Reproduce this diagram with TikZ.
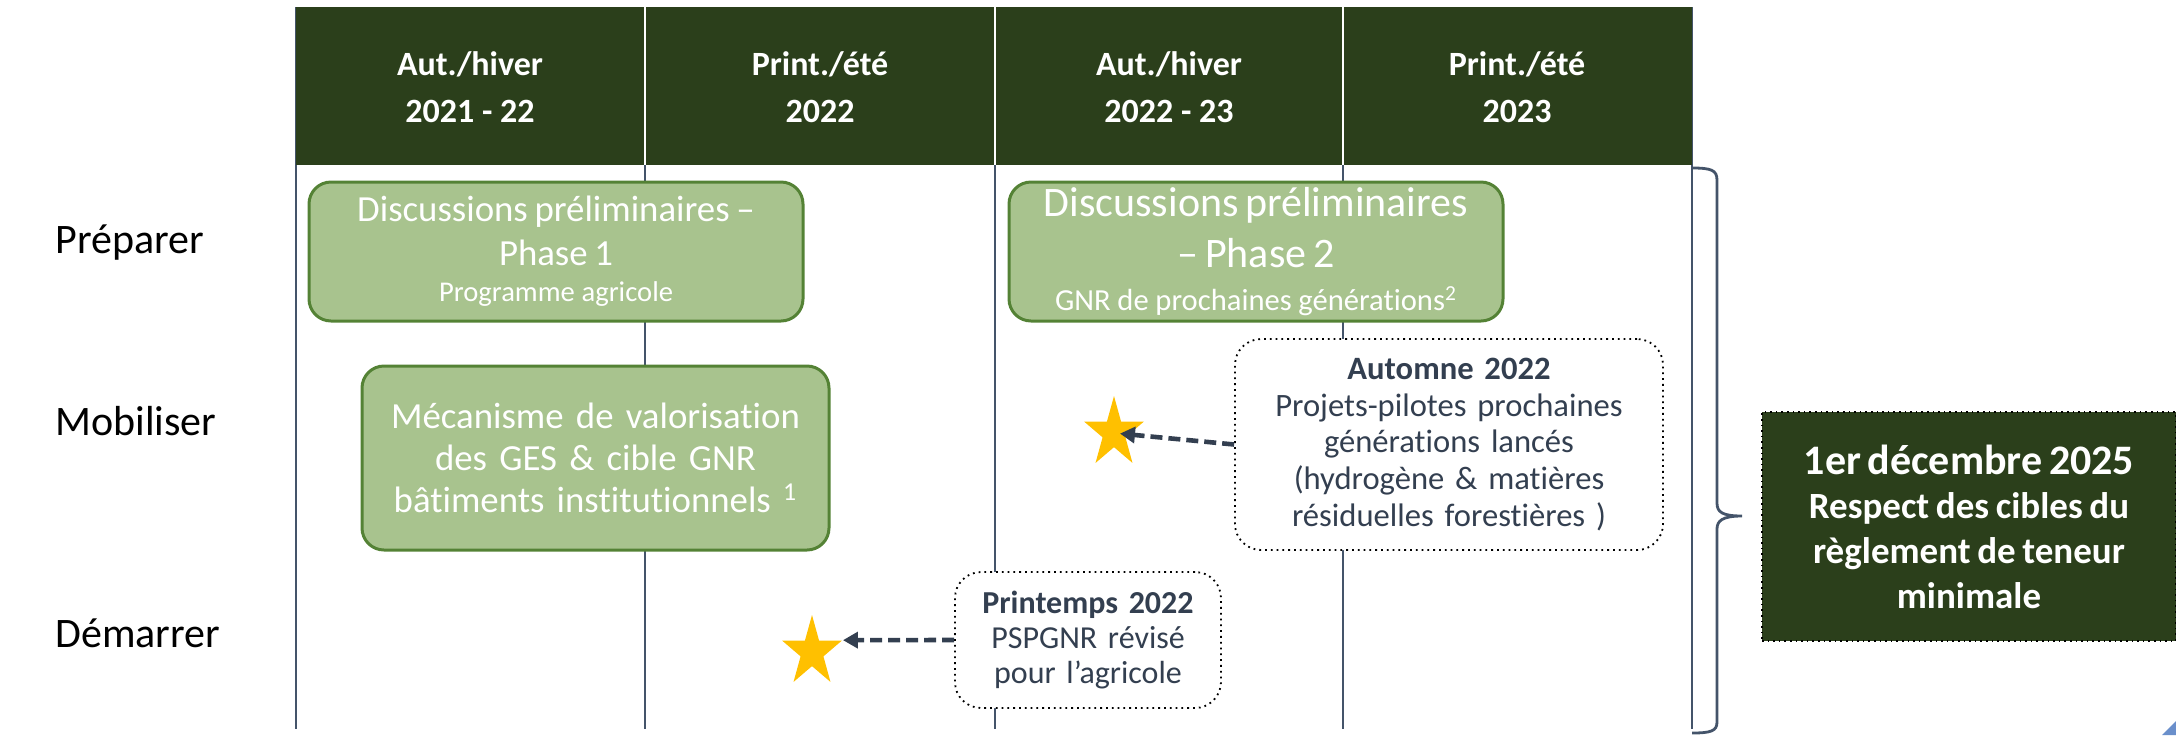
\documentclass[tikz,border=0pt]{standalone}
\usepackage{fontspec}
\setmainfont{Carlito}[Ligatures={NoCommon}]
\usetikzlibrary{shapes.geometric,arrows.meta}
\definecolor{hdr}{HTML}{2B3F1B}
\definecolor{boxfill}{HTML}{A8C38E}
\definecolor{boxline}{HTML}{548235}
\definecolor{gridc}{HTML}{44546A}
\definecolor{gold}{HTML}{FFC000}
\definecolor{ink}{HTML}{333F50}
\definecolor{cornerc}{HTML}{6A8FCB}
\begin{document}
\begin{tikzpicture}[x=0.5pt,y=-0.5pt,
  gridline/.style={draw=gridc,line width=1.1pt},
  hdrtext/.style={text=white,align=center,font=\fontsize{17}{23.5}\selectfont\bfseries},
  rowlabel/.style={anchor=west,inner sep=0pt,font=\fontsize{21}{25}\selectfont},
  greenbox/.style={draw=boxline,line width=1.5pt,fill=boxfill,rounded corners=11pt,
    text=white,align=center,inner sep=0pt},
  callout/.style={draw=black,dotted,line width=0.9pt,fill=white,rounded corners=13pt,
    text=ink,align=center,inner sep=0pt},
  goalbox/.style={draw=black,dotted,line width=0.8pt,fill=hdr,text=white,align=center,
    inner sep=0pt,font=\bfseries},
  starmark/.style={star,star points=5,star point ratio=2.618,fill=gold,draw=none,
    minimum size=37pt,inner sep=0pt,transform shape},
  dasharrow/.style={draw=ink,line width=2.3pt,dash pattern=on 6pt off 3pt,
    -{Triangle[length=7.5pt,width=8pt]}}]
\useasboundingbox (0,0) rectangle (2176,735);

% grid lines
\foreach \gx in {296,645,995,1343,1692}{
  \draw[gridline] (\gx,7) -- (\gx,729);
}
% header
\fill[hdr] (296,7) rectangle (1692,165);
\foreach \gx in {645,995,1343}{
  \draw[white,line width=1pt] (\gx,7) -- (\gx,165);
}
\node[hdrtext] (h1) at (470,87) {Aut./hiver\\2021 - 22};
\node[hdrtext] (h2) at (820,87) {Print./été\\2022};
\node[hdrtext] (h3) at (1169,87) {Aut./hiver\\2022 - 23};
\node[hdrtext] (h4) at (1517,87) {Print./été\\2023};

% row labels
\node[rowlabel] (r1) at (55,243) {Préparer};
\node[rowlabel] (r2) at (55,421) {Mobiliser};
\node[rowlabel] (r3) at (55,633) {Démarrer};

% green boxes
\node[greenbox,minimum width=247pt,minimum height=69.5pt,text width=240pt] (p1) at (556,251.5)
  {{\fontsize{18.4}{22}\selectfont Discussions préliminaires –\\ Phase 1\par}%
   {\fontsize{14.3}{18}\selectfont Programme agricole\par}};
\node[greenbox,minimum width=247pt,minimum height=69.5pt,text width=244pt] (p2) at (1256,251.5)
  {{\fontsize{21}{25.5}\selectfont Discussions préliminaires\\ – Phase 2\par}%
   {\fontsize{15.3}{21.5}\selectfont GNR de prochaines générations\textsuperscript{2}\par}};
\node[greenbox,minimum width=233.5pt,minimum height=92pt,text width=228pt,
  font=\fontsize{18.4}{21}\selectfont] (m1) at (595.5,458)
  {Mécanisme de valorisation\\des GES \& cible GNR\\bâtiments institutionnels \textsuperscript{1}};

% callouts
\node[callout,minimum width=214pt,minimum height=105.5pt,text width=210pt,
  font=\fontsize{16.3}{18.4}\selectfont] (auto) at (1449,444.5)
  {\textbf{Automne 2022}\\Projets-pilotes prochaines\\générations lancés\\(hydrogène \& matières\\résiduelles forestières )};
\node[callout,minimum width=133pt,minimum height=68pt,text width=130pt,
  font=\fontsize{16}{17.7}\selectfont] (print) at (1088,640)
  {\textbf{Printemps 2022}\\PSPGNR révisé\\pour l’agricole};

% stars
\begin{scope}[shift={(1114,433)},xscale=0.85]
  \node[starmark] (star1) at (0,0) {};
\end{scope}
\begin{scope}[shift={(812,652)},xscale=0.85]
  \node[starmark] (star2) at (0,0) {};
\end{scope}

% arrows
\draw[dasharrow,shorten >=3pt] (auto.west) -- (star1.center);
\draw[dasharrow] (print.west) -- (star2.outer point 5);

% brace
\draw[gridc,line width=1.4pt] (1692,168) .. controls (1711,168) and (1717,170) .. (1717,180)
  -- (1717,503) .. controls (1717,512) and (1722,516) .. (1742,516)
  .. controls (1722,516) and (1717,521) .. (1717,529)
  -- (1717,722) .. controls (1717,731) and (1711,733) .. (1692,733);

% goal box
\node[goalbox,minimum width=207pt,minimum height=114.5pt,text width=200pt] (goal) at (1969,526.5)
  {{\fontsize{21}{25}\selectfont 1er décembre 2025\par}%
   {\fontsize{18.5}{22.3}\selectfont Respect des cibles du\\règlement de teneur\\minimale\par}};

% corner fragment
\fill[cornerc] (2176,721) -- (2176,735) -- (2162,735) -- cycle;
\end{tikzpicture}
\end{document}
